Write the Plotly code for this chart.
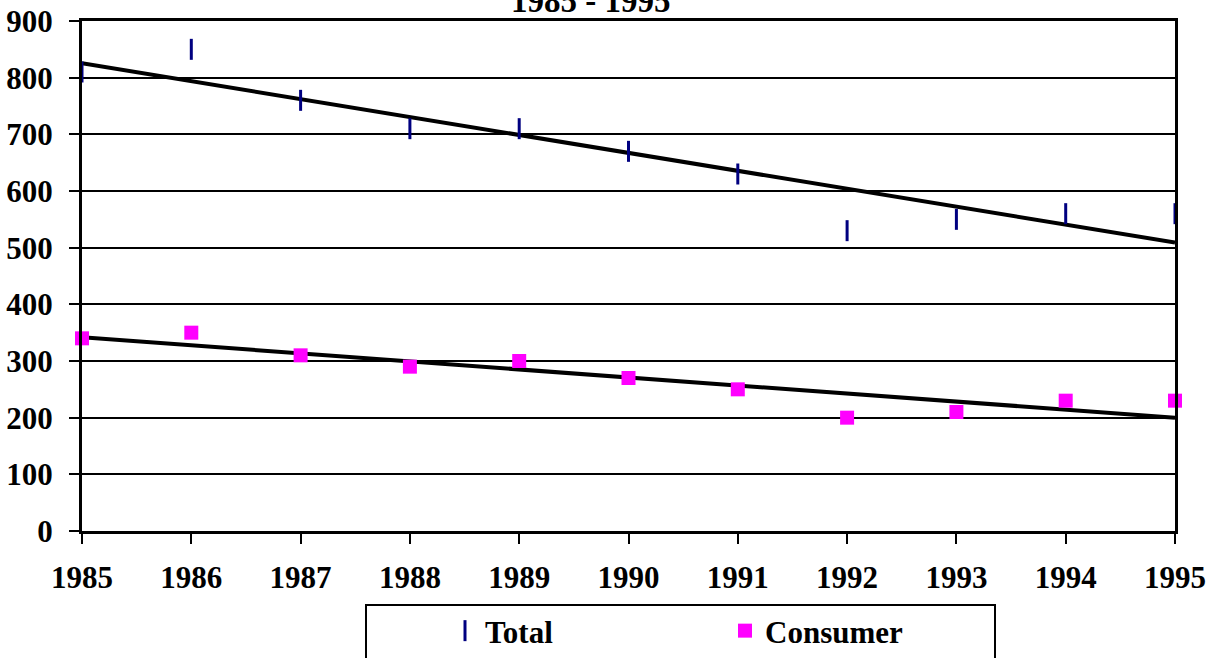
import numpy as np
import plotly.graph_objects as go

years = [1985, 1986, 1987, 1988, 1989, 1990, 1991, 1992, 1993, 1994, 1995]
total = [810, 850, 760, 710, 710, 670, 630, 530, 550, 560, 560]
consumer = [340, 350, 310, 290, 300, 270, 250, 200, 210, 230, 230]
title_text = "1985 - 1995"

FONT = "Liberation Serif, Times New Roman, serif"
W, H = 1217, 658
L, R, T, B = 82, 1175, 21, 531


def px(x):
    return (x - L) / (R - L)


def py(y):
    return (B - y) / (B - T)


x_arr = np.array(years, dtype=float)
fit_total = np.polyval(np.polyfit(x_arr, total, 1), x_arr)
fit_cons = np.polyval(np.polyfit(x_arr, consumer, 1), x_arr)

fig = go.Figure()
fig.add_trace(go.Scatter(x=years, y=fit_total, mode="lines", line=dict(color="black", width=4),
                         showlegend=False, hoverinfo="skip"))
fig.add_trace(go.Scatter(x=years, y=fit_cons, mode="lines", line=dict(color="black", width=4),
                         showlegend=False, hoverinfo="skip"))
fig.add_trace(go.Scatter(x=years, y=total, mode="markers", name="Total", cliponaxis=False,
                         marker=dict(symbol="line-ns", size=15, color="#000080",
                                     line=dict(color="#000080", width=3))))
fig.add_trace(go.Scatter(x=years, y=consumer, mode="markers", name="Consumer", cliponaxis=False,
                         marker=dict(symbol="square", size=14, color="#FF00FF",
                                     line=dict(width=0))))

fig.add_annotation(text=title_text, x=px(591), y=1.0, xref="paper", yref="paper",
                   xanchor="center", yanchor="bottom", showarrow=False,
                   font=dict(family=FONT, size=33, color="black", weight="bold"))

fig.add_shape(type="rect", xref="paper", yref="paper",
              x0=px(366), x1=px(995), y0=py(605), y1=py(700),
              line=dict(color="black", width=2), fillcolor="rgba(0,0,0,0)")

fig.update_layout(
    width=W, height=H,
    margin=dict(l=L, r=W - R, t=T, b=H - B, pad=0, autoexpand=False),
    paper_bgcolor="white", plot_bgcolor="white",
    font=dict(family=FONT, size=31, color="black", weight="bold"),
    showlegend=True,
    legend=dict(orientation="h", x=445 / W, y=1 - 604 / H, xref="container", yref="container",
                xanchor="left", yanchor="top",
                entrywidth=235, entrywidthmode="pixels",
                font=dict(family=FONT, size=31, color="black", weight="bold"),
                bgcolor="rgba(0,0,0,0)", borderwidth=0),
    xaxis=dict(range=[1985, 1995], tickvals=years, ticks="outside", ticklen=10, tickwidth=2,
               tickcolor="black", showline=True, linewidth=3, linecolor="black", mirror=True,
               showgrid=False, zeroline=False, ticklabelstandoff=7, automargin=False),
    yaxis=dict(range=[0, 900], dtick=100, tick0=0, ticks="outside", ticklen=10, tickwidth=2,
               tickcolor="black", showline=True, linewidth=3, linecolor="black", mirror=True,
               showgrid=True, gridcolor="black", gridwidth=2, zeroline=False,
               ticklabelstandoff=10, automargin=False),
)

fig.write_html("out.html", config={"displayModeBar": False},
               post_script="document.body.style.margin='0';document.body.style.overflow='hidden';")
